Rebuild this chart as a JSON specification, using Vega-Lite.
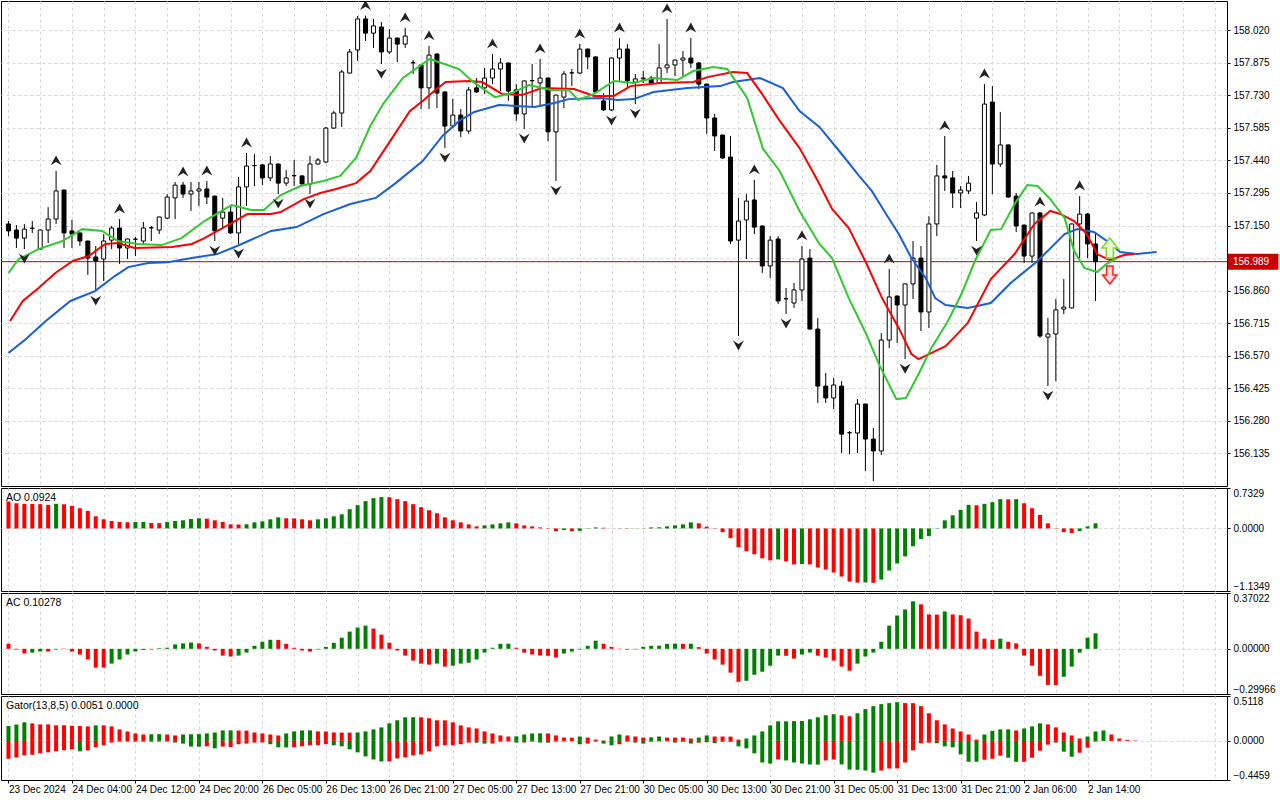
{
  "$schema": "https://vega.github.io/schema/vega-lite/v6.json",
  "padding": 0,
  "background": "white",
  "spacing": 2,
  "bounds": "flush",
  "config": {
    "view": {"stroke": "black", "strokeWidth": 1},
    "font": "Liberation Sans",
    "axis": {
      "labelFont": "Liberation Sans", "labelFontSize": 10, "labelColor": "#000000",
      "tickColor": "#000000", "domainColor": "#000000", "gridColor": "#d6d6d6",
      "gridDash": [3, 3], "tickSize": 3, "labelPadding": 3, "labelOverlap": false
    },
    "title": {
      "font": "Liberation Sans", "fontSize": 10.5, "fontWeight": "normal", "color": "#000000",
      "anchor": "start", "frame": "group", "offset": -16, "dx": 5
    }
  },
  "resolve": {"scale": {"x": "independent", "y": "independent", "color": "independent"}},
  "datasets": {
    "candles": [
      {"i":0,"o":157.157,"h":157.170,"l":157.103,"c":157.126},
      {"i":1,"o":157.130,"h":157.152,"l":157.050,"c":157.094},
      {"i":2,"o":157.094,"h":157.157,"l":157.045,"c":157.134,"fr":"d"},
      {"i":3,"o":157.138,"h":157.170,"l":157.117,"c":157.138},
      {"i":4,"o":157.045,"h":157.132,"l":157.043,"c":157.130},
      {"i":5,"o":157.130,"h":157.232,"l":157.072,"c":157.179},
      {"i":6,"o":157.179,"h":157.393,"l":157.157,"c":157.304,"fr":"u"},
      {"i":7,"o":157.308,"h":157.310,"l":157.050,"c":157.117},
      {"i":8,"o":157.126,"h":157.175,"l":157.050,"c":157.112},
      {"i":9,"o":157.117,"h":157.119,"l":157.059,"c":157.081},
      {"i":10,"o":157.081,"h":157.083,"l":156.930,"c":157.005},
      {"i":11,"o":157.010,"h":157.059,"l":156.858,"c":156.992,"fr":"d"},
      {"i":12,"o":157.001,"h":157.112,"l":156.903,"c":157.081},
      {"i":13,"o":157.085,"h":157.148,"l":157.045,"c":157.139},
      {"i":14,"o":157.139,"h":157.179,"l":156.979,"c":157.050,"fr":"u"},
      {"i":15,"o":157.050,"h":157.092,"l":157.001,"c":157.090},
      {"i":16,"o":157.089,"h":157.099,"l":157.014,"c":157.089},
      {"i":17,"o":157.081,"h":157.166,"l":157.068,"c":157.139},
      {"i":18,"o":157.140,"h":157.148,"l":157.081,"c":157.140},
      {"i":19,"o":157.130,"h":157.190,"l":157.112,"c":157.188},
      {"i":20,"o":157.183,"h":157.290,"l":157.179,"c":157.277},
      {"i":21,"o":157.273,"h":157.344,"l":157.179,"c":157.330},
      {"i":22,"o":157.330,"h":157.344,"l":157.273,"c":157.290,"fr":"u"},
      {"i":23,"o":157.290,"h":157.344,"l":157.215,"c":157.304},
      {"i":24,"o":157.304,"h":157.344,"l":157.237,"c":157.313},
      {"i":25,"o":157.313,"h":157.348,"l":157.246,"c":157.277,"fr":"u"},
      {"i":26,"o":157.281,"h":157.283,"l":157.081,"c":157.126,"fr":"d"},
      {"i":27,"o":157.183,"h":157.273,"l":157.139,"c":157.210},
      {"i":28,"o":157.210,"h":157.237,"l":157.112,"c":157.117},
      {"i":29,"o":157.117,"h":157.366,"l":157.068,"c":157.322,"fr":"d"},
      {"i":30,"o":157.322,"h":157.473,"l":157.237,"c":157.415,"fr":"u"},
      {"i":31,"o":157.417,"h":157.469,"l":157.326,"c":157.417},
      {"i":32,"o":157.420,"h":157.424,"l":157.330,"c":157.362},
      {"i":33,"o":157.362,"h":157.460,"l":157.348,"c":157.424},
      {"i":34,"o":157.424,"h":157.426,"l":157.290,"c":157.339,"fr":"d"},
      {"i":35,"o":157.339,"h":157.397,"l":157.326,"c":157.362},
      {"i":36,"o":157.372,"h":157.442,"l":157.326,"c":157.372},
      {"i":37,"o":157.371,"h":157.373,"l":157.333,"c":157.335},
      {"i":38,"o":157.335,"h":157.460,"l":157.290,"c":157.424,"fr":"d"},
      {"i":39,"o":157.424,"h":157.451,"l":157.422,"c":157.442},
      {"i":40,"o":157.433,"h":157.589,"l":157.428,"c":157.584},
      {"i":41,"o":157.584,"h":157.660,"l":157.580,"c":157.651},
      {"i":42,"o":157.651,"h":157.843,"l":157.589,"c":157.834},
      {"i":43,"o":157.829,"h":157.936,"l":157.827,"c":157.923},
      {"i":44,"o":157.932,"h":158.083,"l":157.883,"c":158.070},
      {"i":45,"o":158.070,"h":158.085,"l":157.972,"c":158.007,"fr":"u"},
      {"i":46,"o":158.007,"h":158.070,"l":157.941,"c":158.039},
      {"i":47,"o":158.034,"h":158.056,"l":157.869,"c":157.923,"fr":"d"},
      {"i":48,"o":157.923,"h":158.025,"l":157.914,"c":157.985},
      {"i":49,"o":157.985,"h":157.987,"l":157.878,"c":157.958},
      {"i":50,"o":157.958,"h":158.030,"l":157.941,"c":157.994,"fr":"u"},
      {"i":51,"o":157.875,"h":157.887,"l":157.825,"c":157.875},
      {"i":52,"o":157.865,"h":157.867,"l":157.669,"c":157.763},
      {"i":53,"o":157.763,"h":157.950,"l":157.669,"c":157.909,"fr":"u"},
      {"i":54,"o":157.914,"h":157.916,"l":157.673,"c":157.740},
      {"i":55,"o":157.745,"h":157.747,"l":157.495,"c":157.593,"fr":"d"},
      {"i":56,"o":157.593,"h":157.714,"l":157.584,"c":157.642},
      {"i":57,"o":157.642,"h":157.669,"l":157.544,"c":157.571},
      {"i":58,"o":157.571,"h":157.767,"l":157.558,"c":157.754},
      {"i":59,"o":157.763,"h":157.807,"l":157.740,"c":157.745},
      {"i":60,"o":157.763,"h":157.852,"l":157.736,"c":157.807},
      {"i":61,"o":157.807,"h":157.914,"l":157.780,"c":157.847,"fr":"u"},
      {"i":62,"o":157.847,"h":157.896,"l":157.749,"c":157.874},
      {"i":63,"o":157.874,"h":157.876,"l":157.705,"c":157.749},
      {"i":64,"o":157.754,"h":157.780,"l":157.616,"c":157.647},
      {"i":65,"o":157.647,"h":157.796,"l":157.580,"c":157.794,"fr":"d"},
      {"i":66,"o":157.795,"h":157.869,"l":157.682,"c":157.795},
      {"i":67,"o":157.785,"h":157.892,"l":157.682,"c":157.807,"fr":"u"},
      {"i":68,"o":157.807,"h":157.809,"l":157.526,"c":157.567},
      {"i":69,"o":157.567,"h":157.733,"l":157.348,"c":157.731,"fr":"d"},
      {"i":70,"o":157.722,"h":157.838,"l":157.673,"c":157.825},
      {"i":71,"o":157.830,"h":157.847,"l":157.771,"c":157.830},
      {"i":72,"o":157.829,"h":157.958,"l":157.825,"c":157.936,"fr":"u"},
      {"i":73,"o":157.936,"h":157.938,"l":157.847,"c":157.901},
      {"i":74,"o":157.901,"h":157.903,"l":157.740,"c":157.745},
      {"i":75,"o":157.705,"h":157.740,"l":157.660,"c":157.665},
      {"i":76,"o":157.665,"h":157.898,"l":157.660,"c":157.896,"fr":"d"},
      {"i":77,"o":157.896,"h":157.985,"l":157.794,"c":157.936,"fr":"u"},
      {"i":78,"o":157.936,"h":157.958,"l":157.763,"c":157.794},
      {"i":79,"o":157.789,"h":157.825,"l":157.691,"c":157.803,"fr":"d"},
      {"i":80,"o":157.803,"h":157.838,"l":157.785,"c":157.807},
      {"i":81,"o":157.807,"h":157.816,"l":157.780,"c":157.785},
      {"i":82,"o":157.785,"h":157.958,"l":157.780,"c":157.852},
      {"i":83,"o":157.852,"h":158.070,"l":157.829,"c":157.865,"fr":"u"},
      {"i":84,"o":157.865,"h":157.889,"l":157.816,"c":157.887},
      {"i":85,"o":157.887,"h":157.927,"l":157.816,"c":157.896},
      {"i":86,"o":157.896,"h":157.985,"l":157.852,"c":157.874,"fr":"u"},
      {"i":87,"o":157.874,"h":157.878,"l":157.758,"c":157.780},
      {"i":88,"o":157.780,"h":157.782,"l":157.558,"c":157.629},
      {"i":89,"o":157.629,"h":157.647,"l":157.482,"c":157.549},
      {"i":90,"o":157.553,"h":157.555,"l":157.446,"c":157.451},
      {"i":91,"o":157.455,"h":157.549,"l":157.068,"c":157.081},
      {"i":92,"o":157.085,"h":157.273,"l":156.658,"c":157.170,"fr":"d"},
      {"i":93,"o":157.175,"h":157.290,"l":157.001,"c":157.259},
      {"i":94,"o":157.264,"h":157.353,"l":157.112,"c":157.143,"fr":"u"},
      {"i":95,"o":157.148,"h":157.150,"l":156.939,"c":156.970},
      {"i":96,"o":156.970,"h":157.103,"l":156.916,"c":157.085},
      {"i":97,"o":157.090,"h":157.103,"l":156.800,"c":156.814},
      {"i":98,"o":156.824,"h":156.872,"l":156.756,"c":156.824,"fr":"d"},
      {"i":99,"o":156.805,"h":156.894,"l":156.783,"c":156.863},
      {"i":100,"o":156.863,"h":157.059,"l":156.814,"c":157.001,"fr":"u"},
      {"i":101,"o":157.005,"h":157.045,"l":156.687,"c":156.689},
      {"i":102,"o":156.689,"h":156.738,"l":156.360,"c":156.435},
      {"i":103,"o":156.435,"h":156.493,"l":156.360,"c":156.382},
      {"i":104,"o":156.382,"h":156.471,"l":156.333,"c":156.440},
      {"i":105,"o":156.435,"h":156.457,"l":156.137,"c":156.221},
      {"i":106,"o":156.227,"h":156.235,"l":156.132,"c":156.227},
      {"i":107,"o":156.226,"h":156.377,"l":156.137,"c":156.355},
      {"i":108,"o":156.355,"h":156.357,"l":156.057,"c":156.199},
      {"i":109,"o":156.199,"h":156.248,"l":156.012,"c":156.146,"fr":"d"},
      {"i":110,"o":156.146,"h":156.671,"l":156.128,"c":156.640},
      {"i":111,"o":156.640,"h":156.956,"l":156.604,"c":156.832,"fr":"u"},
      {"i":112,"o":156.836,"h":156.838,"l":156.627,"c":156.796},
      {"i":113,"o":156.796,"h":156.892,"l":156.555,"c":156.890,"fr":"d"},
      {"i":114,"o":156.890,"h":157.081,"l":156.823,"c":157.005},
      {"i":115,"o":157.005,"h":157.059,"l":156.680,"c":156.765},
      {"i":116,"o":156.765,"h":157.192,"l":156.694,"c":157.157},
      {"i":117,"o":157.157,"h":157.420,"l":157.103,"c":157.371},
      {"i":118,"o":157.371,"h":157.549,"l":157.304,"c":157.362,"fr":"u"},
      {"i":119,"o":157.362,"h":157.393,"l":157.228,"c":157.295},
      {"i":120,"o":157.295,"h":157.326,"l":157.228,"c":157.308},
      {"i":121,"o":157.304,"h":157.371,"l":157.290,"c":157.339},
      {"i":122,"o":157.183,"h":157.255,"l":157.081,"c":157.206,"fr":"d"},
      {"i":123,"o":157.197,"h":157.780,"l":157.192,"c":157.691,"fr":"u"},
      {"i":124,"o":157.700,"h":157.771,"l":157.290,"c":157.424},
      {"i":125,"o":157.424,"h":157.656,"l":157.411,"c":157.509},
      {"i":126,"o":157.509,"h":157.511,"l":157.273,"c":157.277},
      {"i":127,"o":157.281,"h":157.295,"l":157.121,"c":157.148},
      {"i":128,"o":157.152,"h":157.154,"l":156.983,"c":157.014},
      {"i":129,"o":157.014,"h":157.208,"l":156.983,"c":157.206},
      {"i":130,"o":157.206,"h":157.210,"l":156.649,"c":156.658,"fr":"u"},
      {"i":131,"o":156.653,"h":156.738,"l":156.435,"c":156.667,"fr":"d"},
      {"i":132,"o":156.667,"h":156.823,"l":156.457,"c":156.774},
      {"i":133,"o":156.778,"h":156.912,"l":156.756,"c":156.787},
      {"i":134,"o":156.783,"h":157.159,"l":156.781,"c":157.157},
      {"i":135,"o":157.157,"h":157.281,"l":157.005,"c":157.201,"fr":"u"},
      {"i":136,"o":157.201,"h":157.206,"l":157.005,"c":157.068},
      {"i":137,"o":157.068,"h":157.116,"l":156.814,"c":156.989}
    ],
    "alligator": [
      {"s":"jaw","i":0,"p":156.582},{"s":"jaw","i":2.2,"p":156.645},{"s":"jaw","i":4.7,"p":156.725},{"s":"jaw","i":7.8,"p":156.814},
      {"s":"jaw","i":10.9,"p":156.858},{"s":"jaw","i":13.4,"p":156.925},{"s":"jaw","i":15.1,"p":156.965},{"s":"jaw","i":17.6,"p":156.983},
      {"s":"jaw","i":20.1,"p":156.987},{"s":"jaw","i":23.1,"p":157.005},{"s":"jaw","i":26.3,"p":157.023},{"s":"jaw","i":28.8,"p":157.059},
      {"s":"jaw","i":33.1,"p":157.126},{"s":"jaw","i":36.3,"p":157.143},{"s":"jaw","i":39.7,"p":157.201},{"s":"jaw","i":43.1,"p":157.246},
      {"s":"jaw","i":46.3,"p":157.273},{"s":"jaw","i":48.8,"p":157.339},{"s":"jaw","i":52.2,"p":157.437},{"s":"jaw","i":54.7,"p":157.549},
      {"s":"jaw","i":56.8,"p":157.616},{"s":"jaw","i":58.7,"p":157.656},{"s":"jaw","i":61.8,"p":157.687},{"s":"jaw","i":66.3,"p":157.678},
      {"s":"jaw","i":68.8,"p":157.696},{"s":"jaw","i":70.6,"p":157.713},{"s":"jaw","i":74.7,"p":157.718},{"s":"jaw","i":76.8,"p":157.709},
      {"s":"jaw","i":78.8,"p":157.713},{"s":"jaw","i":81.3,"p":157.745},{"s":"jaw","i":85.6,"p":157.762},{"s":"jaw","i":89.7,"p":157.771},
      {"s":"jaw","i":91.3,"p":157.789},{"s":"jaw","i":94.7,"p":157.807},{"s":"jaw","i":97.6,"p":157.762},{"s":"jaw","i":99.7,"p":157.660},
      {"s":"jaw","i":102.2,"p":157.589},{"s":"jaw","i":104.7,"p":157.482},{"s":"jaw","i":107.2,"p":157.371},{"s":"jaw","i":108.8,"p":157.304},
      {"s":"jaw","i":110.6,"p":157.201},{"s":"jaw","i":112.2,"p":157.112},{"s":"jaw","i":113.8,"p":157.005},{"s":"jaw","i":115.6,"p":156.916},
      {"s":"jaw","i":116.8,"p":156.827},{"s":"jaw","i":118.1,"p":156.796},{"s":"jaw","i":120.9,"p":156.783},{"s":"jaw","i":123.8,"p":156.805},
      {"s":"jaw","i":126.3,"p":156.894},{"s":"jaw","i":129.7,"p":156.992},{"s":"jaw","i":133.1,"p":157.112},{"s":"jaw","i":134.7,"p":157.134},
      {"s":"jaw","i":136.8,"p":157.121},{"s":"jaw","i":138.8,"p":157.072},{"s":"jaw","i":140.1,"p":157.032},{"s":"jaw","i":142.2,"p":157.023},
      {"s":"jaw","i":144.7,"p":157.032},
      {"s":"teeth","i":0.2,"p":156.725},{"s":"teeth","i":1.8,"p":156.814},{"s":"teeth","i":3.8,"p":156.872},{"s":"teeth","i":5.9,"p":156.939},
      {"s":"teeth","i":8.1,"p":156.992},{"s":"teeth","i":10.1,"p":157.014},{"s":"teeth","i":12.2,"p":157.068},{"s":"teeth","i":13.8,"p":157.072},
      {"s":"teeth","i":15.9,"p":157.050},{"s":"teeth","i":20.6,"p":157.054},{"s":"teeth","i":23.1,"p":157.068},{"s":"teeth","i":24.7,"p":157.094},
      {"s":"teeth","i":28.1,"p":157.161},{"s":"teeth","i":30.1,"p":157.201},{"s":"teeth","i":33.1,"p":157.201},{"s":"teeth","i":34.3,"p":157.210},
      {"s":"teeth","i":37.2,"p":157.268},{"s":"teeth","i":39.3,"p":157.295},{"s":"teeth","i":41.3,"p":157.313},{"s":"teeth","i":43.8,"p":157.339},
      {"s":"teeth","i":45.6,"p":157.393},{"s":"teeth","i":48.1,"p":157.526},{"s":"teeth","i":50.6,"p":157.660},{"s":"teeth","i":52.2,"p":157.705},
      {"s":"teeth","i":53.8,"p":157.754},{"s":"teeth","i":55.1,"p":157.789},{"s":"teeth","i":58.1,"p":157.794},{"s":"teeth","i":59.7,"p":157.789},
      {"s":"teeth","i":62.2,"p":157.736},{"s":"teeth","i":64.7,"p":157.731},{"s":"teeth","i":67.2,"p":157.762},{"s":"teeth","i":71.3,"p":157.758},
      {"s":"teeth","i":73.8,"p":157.727},{"s":"teeth","i":76.3,"p":157.727},{"s":"teeth","i":78.4,"p":157.771},{"s":"teeth","i":82.2,"p":157.785},
      {"s":"teeth","i":86.3,"p":157.789},{"s":"teeth","i":88.1,"p":157.811},{"s":"teeth","i":91.3,"p":157.834},{"s":"teeth","i":93.1,"p":157.829},
      {"s":"teeth","i":94.9,"p":157.740},{"s":"teeth","i":97.2,"p":157.616},{"s":"teeth","i":99.7,"p":157.495},{"s":"teeth","i":101.8,"p":157.362},
      {"s":"teeth","i":103.8,"p":157.224},{"s":"teeth","i":105.9,"p":157.139},{"s":"teeth","i":108.1,"p":156.983},{"s":"teeth","i":110.1,"p":156.827},
      {"s":"teeth","i":112.2,"p":156.694},{"s":"teeth","i":113.8,"p":156.578},{"s":"teeth","i":114.7,"p":156.555},{"s":"teeth","i":116.8,"p":156.591},
      {"s":"teeth","i":118.1,"p":156.613},{"s":"teeth","i":119.7,"p":156.671},{"s":"teeth","i":120.9,"p":156.716},{"s":"teeth","i":123.8,"p":156.912},
      {"s":"teeth","i":126.8,"p":157.023},{"s":"teeth","i":129.3,"p":157.157},{"s":"teeth","i":131.3,"p":157.215},{"s":"teeth","i":132.6,"p":157.201},
      {"s":"teeth","i":134.3,"p":157.170},{"s":"teeth","i":135.9,"p":157.112},{"s":"teeth","i":137.2,"p":157.023},{"s":"teeth","i":138.8,"p":156.996},
      {"s":"teeth","i":140.6,"p":157.019},{"s":"teeth","i":141.9,"p":157.023},
      {"s":"lips","i":0,"p":156.939},{"s":"lips","i":1.3,"p":157.001},{"s":"lips","i":3.8,"p":157.045},{"s":"lips","i":6.8,"p":157.081},
      {"s":"lips","i":9.3,"p":157.134},{"s":"lips","i":11.8,"p":157.126},{"s":"lips","i":13.8,"p":157.081},{"s":"lips","i":16.3,"p":157.068},
      {"s":"lips","i":19.3,"p":157.063},{"s":"lips","i":21.8,"p":157.094},{"s":"lips","i":24.7,"p":157.170},{"s":"lips","i":28.1,"p":157.241},
      {"s":"lips","i":30.6,"p":157.219},{"s":"lips","i":32.2,"p":157.219},{"s":"lips","i":34.3,"p":157.286},{"s":"lips","i":36.8,"p":157.326},
      {"s":"lips","i":39.7,"p":157.348},{"s":"lips","i":41.8,"p":157.371},{"s":"lips","i":43.8,"p":157.451},{"s":"lips","i":45.6,"p":157.593},
      {"s":"lips","i":47.2,"p":157.691},{"s":"lips","i":49.7,"p":157.807},{"s":"lips","i":53.1,"p":157.892},{"s":"lips","i":56.8,"p":157.847},
      {"s":"lips","i":58.4,"p":157.794},{"s":"lips","i":61.3,"p":157.722},{"s":"lips","i":63.4,"p":157.740},{"s":"lips","i":65.6,"p":157.776},
      {"s":"lips","i":68.4,"p":157.754},{"s":"lips","i":70.6,"p":157.754},{"s":"lips","i":71.8,"p":157.709},{"s":"lips","i":73.8,"p":157.736},
      {"s":"lips","i":76.3,"p":157.794},{"s":"lips","i":78.8,"p":157.785},{"s":"lips","i":81.3,"p":157.807},{"s":"lips","i":84.3,"p":157.798},
      {"s":"lips","i":86.3,"p":157.838},{"s":"lips","i":88.8,"p":157.856},{"s":"lips","i":90.6,"p":157.847},{"s":"lips","i":93.1,"p":157.718},
      {"s":"lips","i":95.1,"p":157.491},{"s":"lips","i":97.2,"p":157.393},{"s":"lips","i":99.7,"p":157.215},{"s":"lips","i":102.2,"p":157.068},
      {"s":"lips","i":103.8,"p":157.005},{"s":"lips","i":105.9,"p":156.827},{"s":"lips","i":108.1,"p":156.667},{"s":"lips","i":109.7,"p":156.533},
      {"s":"lips","i":111.9,"p":156.377},{"s":"lips","i":113.1,"p":156.382},{"s":"lips","i":114.7,"p":156.489},{"s":"lips","i":116.3,"p":156.604},
      {"s":"lips","i":118.4,"p":156.725},{"s":"lips","i":120.1,"p":156.845},{"s":"lips","i":121.8,"p":156.992},{"s":"lips","i":123.8,"p":157.130},
      {"s":"lips","i":125.1,"p":157.134},{"s":"lips","i":126.8,"p":157.246},{"s":"lips","i":128.4,"p":157.330},{"s":"lips","i":129.7,"p":157.326},
      {"s":"lips","i":131.3,"p":157.268},{"s":"lips","i":133.1,"p":157.184},{"s":"lips","i":134.3,"p":157.036},{"s":"lips","i":135.6,"p":156.961},
      {"s":"lips","i":137.2,"p":156.943},{"s":"lips","i":138.4,"p":156.979},{"s":"lips","i":139.7,"p":157.005}
    ],
    "signals": [
      {"i":138.8,"p":157.050,"dir":"up"},
      {"i":138.8,"p":156.930,"dir":"down"}
    ],
    "osc": [
      {"i":0,"ao":0.488,"a":"r","ac":0.033,"b":"r"},{"i":1,"ao":0.458,"a":"r","ac":-0.004,"b":"r"},
      {"i":2,"ao":0.446,"a":"r","ac":-0.031,"b":"r"},{"i":3,"ao":0.444,"a":"r","ac":-0.025,"b":"g"},
      {"i":4,"ao":0.440,"a":"r","ac":-0.018,"b":"g"},{"i":5,"ao":0.427,"a":"r","ac":-0.018,"b":"r"},
      {"i":6,"ao":0.446,"a":"g","ac":-0.004,"b":"g"},{"i":7,"ao":0.440,"a":"r","ac":-0.002,"b":"r"},
      {"i":8,"ao":0.409,"a":"r","ac":-0.018,"b":"r"},{"i":9,"ao":0.366,"a":"r","ac":-0.038,"b":"r"},
      {"i":10,"ao":0.317,"a":"r","ac":-0.071,"b":"r"},{"i":11,"ao":0.220,"a":"r","ac":-0.125,"b":"r"},
      {"i":12,"ao":0.165,"a":"r","ac":-0.125,"b":"r"},{"i":13,"ao":0.134,"a":"r","ac":-0.098,"b":"g"},
      {"i":14,"ao":0.116,"a":"r","ac":-0.071,"b":"g"},{"i":15,"ao":0.110,"a":"r","ac":-0.038,"b":"g"},
      {"i":16,"ao":0.116,"a":"g","ac":-0.018,"b":"g"},{"i":17,"ao":0.117,"a":"g","ac":-0.007,"b":"g"},
      {"i":18,"ao":0.098,"a":"r","ac":-0.004,"b":"r"},{"i":19,"ao":0.096,"a":"r","ac":0.004,"b":"g"},
      {"i":20,"ao":0.116,"a":"g","ac":0.007,"b":"g"},{"i":21,"ao":0.134,"a":"g","ac":0.029,"b":"g"},
      {"i":22,"ao":0.147,"a":"g","ac":0.036,"b":"g"},{"i":23,"ao":0.171,"a":"g","ac":0.042,"b":"g"},
      {"i":24,"ao":0.183,"a":"g","ac":0.036,"b":"r"},{"i":25,"ao":0.177,"a":"r","ac":0.013,"b":"r"},
      {"i":26,"ao":0.147,"a":"r","ac":-0.011,"b":"r"},{"i":27,"ao":0.116,"a":"r","ac":-0.045,"b":"r"},
      {"i":28,"ao":0.073,"a":"r","ac":-0.051,"b":"r"},{"i":29,"ao":0.071,"a":"r","ac":-0.045,"b":"g"},
      {"i":30,"ao":0.075,"a":"g","ac":-0.025,"b":"g"},{"i":31,"ao":0.110,"a":"g","ac":0.020,"b":"g"},
      {"i":32,"ao":0.128,"a":"g","ac":0.047,"b":"g"},{"i":33,"ao":0.165,"a":"g","ac":0.060,"b":"g"},
      {"i":34,"ao":0.201,"a":"g","ac":0.059,"b":"r"},{"i":35,"ao":0.183,"a":"r","ac":0.033,"b":"r"},
      {"i":36,"ao":0.181,"a":"r","ac":0.007,"b":"r"},{"i":37,"ao":0.165,"a":"r","ac":-0.011,"b":"r"},
      {"i":38,"ao":0.147,"a":"r","ac":-0.018,"b":"r"},{"i":39,"ao":0.165,"a":"g","ac":-0.004,"b":"g"},
      {"i":40,"ao":0.183,"a":"g","ac":0.013,"b":"g"},{"i":41,"ao":0.220,"a":"g","ac":0.040,"b":"g"},
      {"i":42,"ao":0.256,"a":"g","ac":0.074,"b":"g"},{"i":43,"ao":0.348,"a":"g","ac":0.114,"b":"g"},
      {"i":44,"ao":0.421,"a":"g","ac":0.141,"b":"g"},{"i":45,"ao":0.495,"a":"g","ac":0.154,"b":"g"},
      {"i":46,"ao":0.549,"a":"g","ac":0.134,"b":"r"},{"i":47,"ao":0.568,"a":"g","ac":0.094,"b":"r"},
      {"i":48,"ao":0.566,"a":"r","ac":0.040,"b":"r"},{"i":49,"ao":0.531,"a":"r","ac":-0.011,"b":"r"},
      {"i":50,"ao":0.495,"a":"r","ac":-0.045,"b":"r"},{"i":51,"ao":0.440,"a":"r","ac":-0.078,"b":"r"},
      {"i":52,"ao":0.385,"a":"r","ac":-0.098,"b":"r"},{"i":53,"ao":0.330,"a":"r","ac":-0.105,"b":"r"},
      {"i":54,"ao":0.275,"a":"r","ac":-0.098,"b":"g"},{"i":55,"ao":0.201,"a":"r","ac":-0.118,"b":"r"},
      {"i":56,"ao":0.147,"a":"r","ac":-0.112,"b":"g"},{"i":57,"ao":0.110,"a":"r","ac":-0.098,"b":"g"},
      {"i":58,"ao":0.073,"a":"r","ac":-0.092,"b":"g"},{"i":59,"ao":0.037,"a":"r","ac":-0.071,"b":"g"},
      {"i":60,"ao":0.055,"a":"g","ac":-0.025,"b":"g"},{"i":61,"ao":0.073,"a":"g","ac":0.007,"b":"g"},
      {"i":62,"ao":0.092,"a":"g","ac":0.033,"b":"g"},{"i":63,"ao":0.110,"a":"g","ac":0.034,"b":"g"},
      {"i":64,"ao":0.092,"a":"r","ac":0.007,"b":"r"},{"i":65,"ao":0.055,"a":"r","ac":-0.025,"b":"r"},
      {"i":66,"ao":0.037,"a":"r","ac":-0.038,"b":"r"},{"i":67,"ao":0.018,"a":"r","ac":-0.045,"b":"r"},
      {"i":68,"ao":-0.006,"a":"r","ac":-0.046,"b":"r"},{"i":69,"ao":-0.049,"a":"r","ac":-0.058,"b":"r"},
      {"i":70,"ao":-0.031,"a":"g","ac":-0.031,"b":"g"},{"i":71,"ao":-0.049,"a":"r","ac":-0.018,"b":"g"},
      {"i":72,"ao":-0.045,"a":"g","ac":-0.004,"b":"g"},{"i":73,"ao":0.006,"a":"g","ac":0.020,"b":"g"},
      {"i":74,"ao":0.018,"a":"g","ac":0.054,"b":"g"},{"i":75,"ao":0.012,"a":"r","ac":0.033,"b":"r"},
      {"i":76,"ao":0.001,"a":"r","ac":0.013,"b":"r"},{"i":77,"ao":-0.004,"a":"r","ac":-0.002,"b":"r"},
      {"i":78,"ao":-0.005,"a":"r","ac":-0.005,"b":"r"},{"i":79,"ao":-0.003,"a":"g","ac":-0.003,"b":"g"},
      {"i":80,"ao":0.003,"a":"g","ac":0.013,"b":"g"},{"i":81,"ao":0.018,"a":"g","ac":0.020,"b":"g"},
      {"i":82,"ao":0.020,"a":"g","ac":0.021,"b":"g"},{"i":83,"ao":0.037,"a":"g","ac":0.033,"b":"g"},
      {"i":84,"ao":0.055,"a":"g","ac":0.034,"b":"g"},{"i":85,"ao":0.073,"a":"g","ac":0.033,"b":"r"},
      {"i":86,"ao":0.110,"a":"g","ac":0.034,"b":"g"},{"i":87,"ao":0.092,"a":"r","ac":0.011,"b":"r"},
      {"i":88,"ao":0.031,"a":"r","ac":-0.031,"b":"r"},{"i":89,"ao":-0.006,"a":"r","ac":-0.071,"b":"r"},
      {"i":90,"ao":-0.067,"a":"r","ac":-0.105,"b":"r"},{"i":91,"ao":-0.177,"a":"r","ac":-0.158,"b":"r"},
      {"i":92,"ao":-0.342,"a":"r","ac":-0.219,"b":"r"},{"i":93,"ao":-0.415,"a":"r","ac":-0.212,"b":"g"},
      {"i":94,"ao":-0.470,"a":"r","ac":-0.172,"b":"g"},{"i":95,"ao":-0.543,"a":"r","ac":-0.152,"b":"g"},
      {"i":96,"ao":-0.580,"a":"r","ac":-0.112,"b":"g"},{"i":97,"ao":-0.562,"a":"g","ac":-0.045,"b":"g"},
      {"i":98,"ao":-0.598,"a":"r","ac":-0.046,"b":"r"},{"i":99,"ao":-0.653,"a":"r","ac":-0.065,"b":"r"},
      {"i":100,"ao":-0.647,"a":"g","ac":-0.038,"b":"g"},{"i":101,"ao":-0.653,"a":"r","ac":-0.025,"b":"g"},
      {"i":102,"ao":-0.708,"a":"r","ac":-0.045,"b":"r"},{"i":103,"ao":-0.745,"a":"r","ac":-0.058,"b":"r"},
      {"i":104,"ao":-0.800,"a":"r","ac":-0.078,"b":"r"},{"i":105,"ao":-0.873,"a":"r","ac":-0.118,"b":"r"},
      {"i":106,"ao":-0.964,"a":"r","ac":-0.145,"b":"r"},{"i":107,"ao":-0.983,"a":"r","ac":-0.098,"b":"g"},
      {"i":108,"ao":-0.980,"a":"g","ac":-0.051,"b":"g"},{"i":109,"ao":-0.986,"a":"r","ac":-0.025,"b":"g"},
      {"i":110,"ao":-0.928,"a":"g","ac":0.047,"b":"g"},{"i":111,"ao":-0.763,"a":"g","ac":0.154,"b":"g"},
      {"i":112,"ao":-0.635,"a":"g","ac":0.221,"b":"g"},{"i":113,"ao":-0.507,"a":"g","ac":0.261,"b":"g"},
      {"i":114,"ao":-0.324,"a":"g","ac":0.315,"b":"g"},{"i":115,"ao":-0.195,"a":"g","ac":0.295,"b":"r"},
      {"i":116,"ao":-0.140,"a":"g","ac":0.228,"b":"r"},{"i":117,"ao":-0.006,"a":"g","ac":0.227,"b":"r"},
      {"i":118,"ao":0.146,"a":"g","ac":0.248,"b":"g"},{"i":119,"ao":0.238,"a":"g","ac":0.228,"b":"r"},
      {"i":120,"ao":0.336,"a":"g","ac":0.223,"b":"r"},{"i":121,"ao":0.427,"a":"g","ac":0.201,"b":"r"},
      {"i":122,"ao":0.420,"a":"r","ac":0.114,"b":"r"},{"i":123,"ao":0.446,"a":"g","ac":0.067,"b":"r"},
      {"i":124,"ao":0.476,"a":"g","ac":0.060,"b":"r"},{"i":125,"ao":0.531,"a":"g","ac":0.067,"b":"g"},
      {"i":126,"ao":0.528,"a":"r","ac":0.047,"b":"r"},{"i":127,"ao":0.531,"a":"g","ac":0.036,"b":"r"},
      {"i":128,"ao":0.458,"a":"r","ac":-0.045,"b":"r"},{"i":129,"ao":0.366,"a":"r","ac":-0.112,"b":"r"},
      {"i":130,"ao":0.244,"a":"r","ac":-0.179,"b":"r"},{"i":131,"ao":0.092,"a":"r","ac":-0.239,"b":"r"},
      {"i":132,"ao":-0.006,"a":"r","ac":-0.240,"b":"r"},{"i":133,"ao":-0.067,"a":"r","ac":-0.185,"b":"g"},
      {"i":134,"ao":-0.085,"a":"r","ac":-0.118,"b":"g"},{"i":135,"ao":-0.049,"a":"g","ac":-0.025,"b":"g"},
      {"i":136,"ao":0.037,"a":"g","ac":0.074,"b":"g"},{"i":137,"ao":0.0924,"a":"g","ac":0.10278,"b":"g"}
    ],
    "gator": [
      {"i":0,"u":0.169,"cu":"g","d":-0.204,"cd":"r"},{"i":1,"u":0.188,"cu":"g","d":-0.188,"cd":"r"},
      {"i":2,"u":0.212,"cu":"g","d":-0.165,"cd":"r"},{"i":3,"u":0.200,"cu":"r","d":-0.158,"cd":"r"},
      {"i":4,"u":0.188,"cu":"r","d":-0.142,"cd":"r"},{"i":5,"u":0.188,"cu":"r","d":-0.131,"cd":"r"},
      {"i":6,"u":0.177,"cu":"r","d":-0.119,"cd":"r"},{"i":7,"u":0.177,"cu":"r","d":-0.108,"cd":"r"},
      {"i":8,"u":0.173,"cu":"r","d":-0.096,"cd":"r"},{"i":9,"u":0.169,"cu":"r","d":-0.119,"cd":"g"},
      {"i":10,"u":0.165,"cu":"r","d":-0.108,"cd":"r"},{"i":11,"u":0.177,"cu":"g","d":-0.073,"cd":"r"},
      {"i":12,"u":0.177,"cu":"r","d":-0.050,"cd":"r"},{"i":13,"u":0.165,"cu":"r","d":-0.019,"cd":"r"},
      {"i":14,"u":0.131,"cu":"r","d":-0.008,"cd":"r"},{"i":15,"u":0.108,"cu":"r","d":-0.006,"cd":"r"},
      {"i":16,"u":0.085,"cu":"r","d":-0.008,"cd":"g"},{"i":17,"u":0.073,"cu":"r","d":-0.008,"cd":"g"},
      {"i":18,"u":0.075,"cu":"g","d":-0.009,"cd":"g"},{"i":19,"u":0.077,"cu":"g","d":-0.007,"cd":"r"},
      {"i":20,"u":0.073,"cu":"r","d":-0.008,"cd":"g"},{"i":21,"u":0.062,"cu":"r","d":-0.019,"cd":"g"},
      {"i":22,"u":0.073,"cu":"g","d":-0.031,"cd":"g"},{"i":23,"u":0.075,"cu":"g","d":-0.065,"cd":"g"},
      {"i":24,"u":0.077,"cu":"g","d":-0.066,"cd":"g"},{"i":25,"u":0.085,"cu":"g","d":-0.062,"cd":"r"},
      {"i":26,"u":0.096,"cu":"g","d":-0.085,"cd":"g"},{"i":27,"u":0.119,"cu":"g","d":-0.065,"cd":"r"},
      {"i":28,"u":0.120,"cu":"g","d":-0.070,"cd":"r"},{"i":29,"u":0.118,"cu":"r","d":-0.038,"cd":"r"},
      {"i":30,"u":0.117,"cu":"r","d":-0.031,"cd":"r"},{"i":31,"u":0.096,"cu":"r","d":-0.019,"cd":"r"},
      {"i":32,"u":0.085,"cu":"r","d":-0.018,"cd":"r"},{"i":33,"u":0.073,"cu":"r","d":-0.038,"cd":"g"},
      {"i":34,"u":0.062,"cu":"r","d":-0.073,"cd":"g"},{"i":35,"u":0.085,"cu":"g","d":-0.074,"cd":"g"},
      {"i":36,"u":0.108,"cu":"g","d":-0.073,"cd":"r"},{"i":37,"u":0.119,"cu":"g","d":-0.062,"cd":"r"},
      {"i":38,"u":0.120,"cu":"g","d":-0.050,"cd":"r"},{"i":39,"u":0.108,"cu":"r","d":-0.049,"cd":"r"},
      {"i":40,"u":0.107,"cu":"r","d":-0.038,"cd":"r"},{"i":41,"u":0.096,"cu":"r","d":-0.050,"cd":"g"},
      {"i":42,"u":0.095,"cu":"r","d":-0.062,"cd":"g"},{"i":43,"u":0.094,"cu":"r","d":-0.096,"cd":"g"},
      {"i":44,"u":0.096,"cu":"g","d":-0.131,"cd":"g"},{"i":45,"u":0.108,"cu":"g","d":-0.177,"cd":"g"},
      {"i":46,"u":0.131,"cu":"g","d":-0.212,"cd":"g"},{"i":47,"u":0.154,"cu":"g","d":-0.235,"cd":"g"},
      {"i":48,"u":0.200,"cu":"g","d":-0.234,"cd":"r"},{"i":49,"u":0.235,"cu":"g","d":-0.200,"cd":"r"},
      {"i":50,"u":0.269,"cu":"g","d":-0.188,"cd":"r"},{"i":51,"u":0.270,"cu":"g","d":-0.165,"cd":"r"},
      {"i":52,"u":0.269,"cu":"r","d":-0.154,"cd":"r"},{"i":53,"u":0.258,"cu":"r","d":-0.119,"cd":"r"},
      {"i":54,"u":0.235,"cu":"r","d":-0.062,"cd":"r"},{"i":55,"u":0.234,"cu":"r","d":-0.050,"cd":"r"},
      {"i":56,"u":0.212,"cu":"r","d":-0.050,"cd":"r"},{"i":57,"u":0.177,"cu":"r","d":-0.038,"cd":"r"},
      {"i":58,"u":0.154,"cu":"r","d":-0.019,"cd":"r"},{"i":59,"u":0.142,"cu":"r","d":-0.020,"cd":"g"},
      {"i":60,"u":0.108,"cu":"r","d":-0.031,"cd":"g"},{"i":61,"u":0.085,"cu":"r","d":-0.030,"cd":"r"},
      {"i":62,"u":0.062,"cu":"r","d":-0.008,"cd":"r"},{"i":63,"u":0.050,"cu":"r","d":-0.007,"cd":"r"},
      {"i":64,"u":0.052,"cu":"g","d":-0.019,"cd":"g"},{"i":65,"u":0.073,"cu":"g","d":-0.018,"cd":"r"},
      {"i":66,"u":0.085,"cu":"g","d":-0.008,"cd":"r"},{"i":67,"u":0.086,"cu":"g","d":-0.019,"cd":"g"},
      {"i":68,"u":0.085,"cu":"r","d":-0.020,"cd":"g"},{"i":69,"u":0.062,"cu":"r","d":-0.008,"cd":"r"},
      {"i":70,"u":0.038,"cu":"r","d":-0.005,"cd":"r"},{"i":71,"u":0.037,"cu":"r","d":-0.004,"cd":"r"},
      {"i":72,"u":0.050,"cu":"g","d":-0.038,"cd":"g"},{"i":73,"u":0.038,"cu":"r","d":-0.031,"cd":"r"},
      {"i":74,"u":0.015,"cu":"r","d":-0.008,"cd":"r"},{"i":75,"u":0.004,"cu":"r","d":-0.031,"cd":"g"},
      {"i":76,"u":0.050,"cu":"g","d":-0.050,"cd":"g"},{"i":77,"u":0.073,"cu":"g","d":-0.038,"cd":"r"},
      {"i":78,"u":0.062,"cu":"r","d":-0.008,"cd":"r"},{"i":79,"u":0.050,"cu":"r","d":-0.019,"cd":"g"},
      {"i":80,"u":0.038,"cu":"r","d":-0.031,"cd":"g"},{"i":81,"u":0.040,"cu":"g","d":-0.008,"cd":"r"},
      {"i":82,"u":0.050,"cu":"g","d":-0.005,"cd":"r"},{"i":83,"u":0.038,"cu":"r","d":-0.004,"cd":"r"},
      {"i":84,"u":0.037,"cu":"r","d":-0.019,"cd":"g"},{"i":85,"u":0.038,"cu":"r","d":-0.010,"cd":"r"},
      {"i":86,"u":0.027,"cu":"r","d":-0.030,"cd":"g"},{"i":87,"u":0.038,"cu":"g","d":-0.020,"cd":"r"},
      {"i":88,"u":0.062,"cu":"g","d":-0.015,"cd":"r"},{"i":89,"u":0.050,"cu":"r","d":-0.025,"cd":"g"},
      {"i":90,"u":0.050,"cu":"r","d":-0.010,"cd":"r"},{"i":91,"u":0.049,"cu":"r","d":-0.010,"cd":"r"},
      {"i":92,"u":0.015,"cu":"r","d":-0.062,"cd":"g"},{"i":93,"u":0.027,"cu":"g","d":-0.085,"cd":"g"},
      {"i":94,"u":0.062,"cu":"g","d":-0.142,"cd":"g"},{"i":95,"u":0.108,"cu":"g","d":-0.246,"cd":"g"},
      {"i":96,"u":0.177,"cu":"g","d":-0.258,"cd":"g"},{"i":97,"u":0.223,"cu":"g","d":-0.212,"cd":"r"},
      {"i":98,"u":0.223,"cu":"g","d":-0.223,"cd":"g"},{"i":99,"u":0.225,"cu":"g","d":-0.246,"cd":"g"},
      {"i":100,"u":0.227,"cu":"g","d":-0.258,"cd":"g"},{"i":101,"u":0.246,"cu":"g","d":-0.269,"cd":"g"},
      {"i":102,"u":0.269,"cu":"g","d":-0.270,"cd":"g"},{"i":103,"u":0.292,"cu":"g","d":-0.223,"cd":"r"},
      {"i":104,"u":0.304,"cu":"g","d":-0.212,"cd":"r"},{"i":105,"u":0.292,"cu":"r","d":-0.269,"cd":"g"},
      {"i":106,"u":0.281,"cu":"r","d":-0.327,"cd":"g"},{"i":107,"u":0.315,"cu":"g","d":-0.330,"cd":"g"},
      {"i":108,"u":0.362,"cu":"g","d":-0.338,"cd":"g"},{"i":109,"u":0.396,"cu":"g","d":-0.362,"cd":"g"},
      {"i":110,"u":0.419,"cu":"g","d":-0.338,"cd":"r"},{"i":111,"u":0.431,"cu":"g","d":-0.315,"cd":"r"},
      {"i":112,"u":0.442,"cu":"g","d":-0.314,"cd":"r"},{"i":113,"u":0.431,"cu":"r","d":-0.246,"cd":"r"},
      {"i":114,"u":0.430,"cu":"r","d":-0.108,"cd":"r"},{"i":115,"u":0.396,"cu":"r","d":-0.027,"cd":"r"},
      {"i":116,"u":0.315,"cu":"r","d":-0.020,"cd":"r"},{"i":117,"u":0.235,"cu":"r","d":-0.027,"cd":"g"},
      {"i":118,"u":0.188,"cu":"r","d":-0.062,"cd":"g"},{"i":119,"u":0.142,"cu":"r","d":-0.073,"cd":"g"},
      {"i":120,"u":0.108,"cu":"r","d":-0.154,"cd":"g"},{"i":121,"u":0.073,"cu":"r","d":-0.238,"cd":"g"},
      {"i":122,"u":0.015,"cu":"r","d":-0.238,"cd":"g"},{"i":123,"u":0.073,"cu":"g","d":-0.215,"cd":"r"},
      {"i":124,"u":0.115,"cu":"g","d":-0.204,"cd":"r"},{"i":125,"u":0.131,"cu":"g","d":-0.169,"cd":"r"},
      {"i":126,"u":0.131,"cu":"g","d":-0.192,"cd":"g"},{"i":127,"u":0.119,"cu":"r","d":-0.238,"cd":"g"},
      {"i":128,"u":0.142,"cu":"g","d":-0.238,"cd":"r"},{"i":129,"u":0.165,"cu":"g","d":-0.192,"cd":"r"},
      {"i":130,"u":0.200,"cu":"g","d":-0.112,"cd":"r"},{"i":131,"u":0.188,"cu":"r","d":-0.042,"cd":"r"},
      {"i":132,"u":0.154,"cu":"r","d":-0.019,"cd":"g"},{"i":133,"u":0.096,"cu":"r","d":-0.123,"cd":"g"},
      {"i":134,"u":0.062,"cu":"r","d":-0.181,"cd":"g"},{"i":135,"u":0.027,"cu":"r","d":-0.135,"cd":"r"},
      {"i":136,"u":0.050,"cu":"g","d":-0.077,"cd":"r"},{"i":137,"u":0.108,"cu":"g","d":-0.008,"cd":"r"},
      {"i":138,"u":0.119,"cu":"g"},{"i":139,"u":0.073,"cu":"r"},
      {"i":140,"u":0.027,"cu":"r"},{"i":141,"u":0.012,"cu":"r"},
      {"i":142,"u":0.0051,"cu":"r"}
    ]
  },
  "vconcat": [
    {
      "width": 1226,
      "height": 485,
      "layer": [
        {
          "data": {"name": "candles"},
          "transform": [{"filter": "datum.i == 137"}],
          "mark": {"type": "rule", "color": "#c00000", "strokeWidth": 1},
          "encoding": {
            "y": {
              "field": "c", "type": "quantitative", "title": null,
              "scale": {"domain": [155.99, 158.15], "nice": false, "zero": false},
              "axis": {"orient": "right", "format": ".3f", "domain": false, "grid": true, "labelOverlap": false, "values": [156.135, 156.28, 156.425, 156.57, 156.715, 156.86, 157.005, 157.15, 157.295, 157.44, 157.585, 157.73, 157.875, 158.02]}
            }
          }
        },
        {
          "data": {"name": "candles"},
          "mark": {"type": "rule", "color": "black", "strokeWidth": 1},
          "encoding": {
            "x": {
              "field": "i", "type": "quantitative", "title": null,
              "scale": {"domain": [-0.3125, 152.94], "nice": false, "zero": false},
              "axis": {"values": [0,4,8,12,16,20,24,28,32,36,40,44,48,52,56,60,64,68,72,76,80,84,88,92,96,100,104,108,112,116,120,124,128,132,136,140,144,148,152], "labels": false, "ticks": false, "domain": false, "grid": true}
            },
            "y": {"field": "l", "type": "quantitative", "title": null,
              "axis": {"orient": "right", "format": ".3f", "domain": false, "grid": true, "labelOverlap": false, "values": [156.135, 156.28, 156.425, 156.57, 156.715, 156.86, 157.005, 157.15, 157.295, 157.44, 157.585, 157.73, 157.875, 158.02]}},
            "y2": {"field": "h"}
          }
        },
        {
          "data": {"name": "candles"},
          "mark": {"type": "bar", "width": 4, "stroke": "black", "strokeWidth": 1},
          "encoding": {
            "x": {"field": "i", "type": "quantitative", "title": null,
              "axis": {"values": [0,4,8,12,16,20,24,28,32,36,40,44,48,52,56,60,64,68,72,76,80,84,88,92,96,100,104,108,112,116,120,124,128,132,136,140,144,148,152], "labels": false, "ticks": false, "domain": false, "grid": true}},
            "y": {"field": "o", "type": "quantitative", "title": null,
              "axis": {"orient": "right", "format": ".3f", "domain": false, "grid": true, "labelOverlap": false, "values": [156.135, 156.28, 156.425, 156.57, 156.715, 156.86, 157.005, 157.15, 157.295, 157.44, 157.585, 157.73, 157.875, 158.02]}},
            "y2": {"field": "c"},
            "fill": {"condition": {"test": "datum.c >= datum.o", "value": "white"}, "value": "black"}
          }
        },
        {
          "data": {"name": "alligator"},
          "mark": {"type": "line", "strokeWidth": 2},
          "encoding": {
            "x": {"field": "i", "type": "quantitative", "title": null,
              "axis": {"values": [0,4,8,12,16,20,24,28,32,36,40,44,48,52,56,60,64,68,72,76,80,84,88,92,96,100,104,108,112,116,120,124,128,132,136,140,144,148,152], "labels": false, "ticks": false, "domain": false, "grid": true}},
            "y": {"field": "p", "type": "quantitative", "title": null,
              "axis": {"orient": "right", "format": ".3f", "domain": false, "grid": true, "labelOverlap": false, "values": [156.135, 156.28, 156.425, 156.57, 156.715, 156.86, 157.005, 157.15, 157.295, 157.44, 157.585, 157.73, 157.875, 158.02]}},
            "color": {
              "field": "s", "type": "nominal", "legend": null,
              "scale": {"domain": ["jaw", "teeth", "lips"], "range": ["#1a5fd6", "#ff0000", "#33c833"]}
            }
          }
        },
        {
          "data": {"name": "candles"},
          "transform": [{"filter": "datum.fr == 'u'"}],
          "mark": {"type": "point", "shape": "M0,-1L1,0.8L0,0.2L-1,0.8Z", "size": 121, "filled": true, "opacity": 1, "color": "#222222", "yOffset": -10, "clip": true},
          "encoding": {
            "x": {"field": "i", "type": "quantitative", "title": null,
              "axis": {"values": [0,4,8,12,16,20,24,28,32,36,40,44,48,52,56,60,64,68,72,76,80,84,88,92,96,100,104,108,112,116,120,124,128,132,136,140,144,148,152], "labels": false, "ticks": false, "domain": false, "grid": true}},
            "y": {"field": "h", "type": "quantitative", "title": null,
              "axis": {"orient": "right", "format": ".3f", "domain": false, "grid": true, "labelOverlap": false, "values": [156.135, 156.28, 156.425, 156.57, 156.715, 156.86, 157.005, 157.15, 157.295, 157.44, 157.585, 157.73, 157.875, 158.02]}}
          }
        },
        {
          "data": {"name": "candles"},
          "transform": [{"filter": "datum.fr == 'd'"}],
          "mark": {"type": "point", "shape": "M0,1L1,-0.8L0,-0.2L-1,-0.8Z", "size": 121, "filled": true, "opacity": 1, "color": "#222222", "yOffset": 9, "clip": true},
          "encoding": {
            "x": {"field": "i", "type": "quantitative", "title": null,
              "axis": {"values": [0,4,8,12,16,20,24,28,32,36,40,44,48,52,56,60,64,68,72,76,80,84,88,92,96,100,104,108,112,116,120,124,128,132,136,140,144,148,152], "labels": false, "ticks": false, "domain": false, "grid": true}},
            "y": {"field": "l", "type": "quantitative", "title": null,
              "axis": {"orient": "right", "format": ".3f", "domain": false, "grid": true, "labelOverlap": false, "values": [156.135, 156.28, 156.425, 156.57, 156.715, 156.86, 157.005, 157.15, 157.295, 157.44, 157.585, 157.73, 157.875, 158.02]}}
          }
        },
        {
          "data": {"name": "signals"},
          "transform": [{"filter": "datum.dir == 'up'"}],
          "mark": {"type": "point", "shape": "M-0.35,1L-0.35,0L-0.8,0L0,-1L0.8,0L0.35,0L0.35,1Z", "size": 400, "filled": true, "opacity": 1, "fill": "#eaffd0", "stroke": "#7ed63a", "strokeWidth": 1.5},
          "encoding": {
            "x": {"field": "i", "type": "quantitative", "title": null,
              "axis": {"values": [0,4,8,12,16,20,24,28,32,36,40,44,48,52,56,60,64,68,72,76,80,84,88,92,96,100,104,108,112,116,120,124,128,132,136,140,144,148,152], "labels": false, "ticks": false, "domain": false, "grid": true}},
            "y": {"field": "p", "type": "quantitative", "title": null,
              "axis": {"orient": "right", "format": ".3f", "domain": false, "grid": true, "labelOverlap": false, "values": [156.135, 156.28, 156.425, 156.57, 156.715, 156.86, 157.005, 157.15, 157.295, 157.44, 157.585, 157.73, 157.875, 158.02]}}
          }
        },
        {
          "data": {"name": "signals"},
          "transform": [{"filter": "datum.dir == 'down'"}],
          "mark": {"type": "point", "shape": "M-0.35,-1L-0.35,0L-0.8,0L0,1L0.8,0L0.35,0L0.35,-1Z", "size": 324, "filled": true, "opacity": 1, "fill": "#ffd8d8", "stroke": "#ff2020", "strokeWidth": 1.5},
          "encoding": {
            "x": {"field": "i", "type": "quantitative", "title": null,
              "axis": {"values": [0,4,8,12,16,20,24,28,32,36,40,44,48,52,56,60,64,68,72,76,80,84,88,92,96,100,104,108,112,116,120,124,128,132,136,140,144,148,152], "labels": false, "ticks": false, "domain": false, "grid": true}},
            "y": {"field": "p", "type": "quantitative", "title": null,
              "axis": {"orient": "right", "format": ".3f", "domain": false, "grid": true, "labelOverlap": false, "values": [156.135, 156.28, 156.425, 156.57, 156.715, 156.86, 157.005, 157.15, 157.295, 157.44, 157.585, 157.73, 157.875, 158.02]}}
          }
        },
        {
          "data": {"name": "candles"},
          "transform": [{"filter": "datum.i == 137"}],
          "mark": {"type": "point", "shape": "M0,-1H6.3V1H0Z", "size": 256, "filled": true, "opacity": 1, "color": "#c80000", "xOffset": 1},
          "encoding": {
            "x": {"value": "width"},
            "y": {"field": "c", "type": "quantitative", "title": null,
              "axis": {"orient": "right", "format": ".3f", "domain": false, "grid": true, "labelOverlap": false, "values": [156.135, 156.28, 156.425, 156.57, 156.715, 156.86, 157.005, 157.15, 157.295, 157.44, 157.585, 157.73, 157.875, 158.02]}}
          }
        },
        {
          "data": {"name": "candles"},
          "transform": [{"filter": "datum.i == 137"}],
          "mark": {"type": "text", "align": "left", "baseline": "middle", "dx": 6, "color": "white", "font": "Liberation Sans", "fontSize": 10},
          "encoding": {
            "x": {"value": "width"},
            "y": {"field": "c", "type": "quantitative", "title": null,
              "axis": {"orient": "right", "format": ".3f", "domain": false, "grid": true, "labelOverlap": false, "values": [156.135, 156.28, 156.425, 156.57, 156.715, 156.86, 157.005, 157.15, 157.295, 157.44, 157.585, 157.73, 157.875, 158.02]}},
            "text": {"field": "c", "type": "quantitative", "format": ".3f"}
          }
        }
      ]
    },
    {
      "width": 1226,
      "height": 103,
      "title": {"text": "AO 0.0924"},
      "data": {"name": "osc"},
      "mark": {"type": "bar", "width": 4},
      "encoding": {
        "x": {
          "field": "i", "type": "quantitative", "title": null,
          "scale": {"domain": [-0.3125, 152.94], "nice": false, "zero": false},
          "axis": {"values": [0,4,8,12,16,20,24,28,32,36,40,44,48,52,56,60,64,68,72,76,80,84,88,92,96,100,104,108,112,116,120,124,128,132,136,140,144,148,152], "labels": false, "ticks": false, "domain": false, "grid": true}
        },
        "y": {
          "field": "ao", "type": "quantitative", "title": null,
          "scale": {"domain": [-1.1349, 0.7329], "nice": false},
          "axis": {
            "orient": "right", "values": [-1.1349, 0, 0.7329], "format": ".4f", "domain": false,
            "labelFlush": true, "grid": true,
            "gridOpacity": {"condition": {"test": "datum.value === 0", "value": 1}, "value": 0}
          }
        },
        "color": {"field": "a", "type": "nominal", "legend": null, "scale": {"domain": ["g", "r"], "range": ["#008000", "#ff0000"]}}
      }
    },
    {
      "width": 1226,
      "height": 101,
      "title": {"text": "AC 0.10278"},
      "data": {"name": "osc"},
      "mark": {"type": "bar", "width": 4},
      "encoding": {
        "x": {
          "field": "i", "type": "quantitative", "title": null,
          "scale": {"domain": [-0.3125, 152.94], "nice": false, "zero": false},
          "axis": {"values": [0,4,8,12,16,20,24,28,32,36,40,44,48,52,56,60,64,68,72,76,80,84,88,92,96,100,104,108,112,116,120,124,128,132,136,140,144,148,152], "labels": false, "ticks": false, "domain": false, "grid": true}
        },
        "y": {
          "field": "ac", "type": "quantitative", "title": null,
          "scale": {"domain": [-0.29966, 0.37022], "nice": false},
          "axis": {
            "orient": "right", "values": [-0.29966, 0, 0.37022], "format": ".5f", "domain": false,
            "labelFlush": true, "grid": true,
            "gridOpacity": {"condition": {"test": "datum.value === 0", "value": 1}, "value": 0}
          }
        },
        "color": {"field": "b", "type": "nominal", "legend": null, "scale": {"domain": ["g", "r"], "range": ["#008000", "#ff0000"]}}
      }
    },
    {
      "width": 1226,
      "height": 84,
      "title": {"text": "Gator(13,8,5) 0.0051 0.0000"},
      "data": {"name": "gator"},
      "resolve": {"scale": {"color": "shared"}},
      "layer": [
        {
          "mark": {"type": "bar", "width": 4},
          "encoding": {
            "x": {
              "field": "i", "type": "quantitative", "title": null,
              "scale": {"domain": [-0.3125, 152.94], "nice": false, "zero": false},
              "axis": {
                "values": [0,4,8,12,16,20,24,28,32,36,40,44,48,52,56,60,64,68,72,76,80,84,88,92,96,100,104,108,112,116,120,124,128,132,136,140,144,148,152],
                "grid": true, "domain": true, "ticks": true, "labelAlign": "left", "labelOverlap": false,
                "labelFlush": false, "labelBound": false, "labelPadding": 1,
                "tickOpacity": {"condition": {"test": "datum.value % 8 === 0 && datum.value <= 136", "value": 1}, "value": 0},
                "labelExpr": "(datum.value % 8 === 0 && datum.value <= 136) ? ['23 Dec 2024','24 Dec 04:00','24 Dec 12:00','24 Dec 20:00','26 Dec 05:00','26 Dec 13:00','26 Dec 21:00','27 Dec 05:00','27 Dec 13:00','27 Dec 21:00','30 Dec 05:00','30 Dec 13:00','30 Dec 21:00','31 Dec 05:00','31 Dec 13:00','31 Dec 21:00','2 Jan 06:00','2 Jan 14:00'][datum.value / 8] : ''"
              }
            },
            "y": {
              "field": "u", "type": "quantitative", "title": null,
              "scale": {"domain": [-0.4459, 0.5118], "nice": false},
              "axis": {
                "orient": "right", "values": [-0.4459, 0, 0.5118], "format": ".4f", "domain": false,
                "labelFlush": true, "grid": true,
                "gridOpacity": {"condition": {"test": "datum.value === 0", "value": 1}, "value": 0}
              }
            },
            "color": {"field": "cu", "type": "nominal", "legend": null, "scale": {"domain": ["g", "r"], "range": ["#008000", "#ff0000"]}}
          }
        },
        {
          "mark": {"type": "bar", "width": 4},
          "encoding": {
            "x": {"field": "i", "type": "quantitative", "title": null},
            "y": {"field": "d", "type": "quantitative", "title": null},
            "color": {"field": "cd", "type": "nominal", "legend": null}
          }
        }
      ]
    }
  ]
}
